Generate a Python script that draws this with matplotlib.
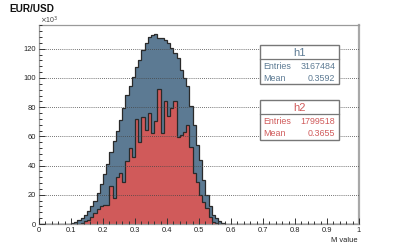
import numpy as np
import matplotlib
matplotlib.use('Agg')
import matplotlib.pyplot as plt
from matplotlib.ticker import MultipleLocator, FuncFormatter
from matplotlib.patches import Rectangle
from matplotlib.lines import Line2D

plt.rcParams['font.family'] = ['Liberation Sans', 'DejaVu Sans']

# histogram binning: 100 bins between 0 and 1
n_bins = 100
x_min, x_max = 0.0, 1.0

# h1 contents (x10^3), first filled bin starts at M = 0.10
h1_start = 10
h1_counts = [0.5, 1.6, 2.8, 4.0, 6.2, 9.2, 12.0, 16.0, 21.0, 27.5,
             34.5, 41.0, 49.0, 57.0, 64.0, 71.0, 79.5, 88.6, 94.3, 101.0,
             107.3, 112.5, 119.4, 124.0, 128.0, 129.2, 130.0, 127.4, 127.4, 126.3,
             124.0, 120.5, 117.0, 113.7, 105.7, 100.0, 94.3, 80.6, 68.0, 54.3,
             44.0, 30.3, 20.0, 12.0, 6.4, 4.0, 1.8, 0.7, 0.3, 0.1]

# h2 contents (x10^3), first filled bin starts at M = 0.12
h2_start = 12
h2_counts = [0.3, 1.0, 2.0, 3.0, 4.5, 7.5, 10.0, 12.0, 13.0, 13.0,
             26.0, 18.0, 32.0, 35.0, 29.0, 43.0, 52.0, 46.0, 72.0, 56.0,
             73.5, 64.4, 75.8, 62.0, 70.8, 92.3, 62.0, 84.5, 74.0, 79.2,
             84.5, 59.8, 61.0, 63.2, 67.8, 53.0, 34.7, 29.0, 19.9, 15.3,
             10.7, 5.0, 1.6, 0.5]

h1_entries = 3167484
h1_mean = 0.3592
h2_entries = 1799518
h2_mean = 0.3655

title = 'EUR/USD'
x_label = 'M value'

blue = '#5c7a93'
red = '#d05a5a'
line_col = '#2a2a2a'
frame_col = '#9a9a9a'


def full(start, vals):
    c = np.zeros(n_bins)
    c[start:start + len(vals)] = vals
    return c


edges = np.linspace(x_min, x_max, n_bins + 1)
c1 = full(h1_start, h1_counts)
c2 = full(h2_start, h2_counts)

W, H = 399, 249
fig = plt.figure(figsize=(W / 100, H / 100), dpi=100)
ax = fig.add_axes([39 / W, 1 - 224 / H, 320 / W, 199 / H])

ax.stairs(c1, edges, fill=True, color=blue, lw=0)
ax.stairs(c1, edges, color=line_col, lw=0.9)
ax.stairs(c2, edges, fill=True, color=red, lw=0)
ax.stairs(c2, edges, color=line_col, lw=0.9)

ax.set_xlim(x_min, x_max)
ax.set_ylim(0, 136.3)

ax.xaxis.set_major_locator(MultipleLocator(0.1))
ax.xaxis.set_minor_locator(MultipleLocator(0.02))
ax.yaxis.set_major_locator(MultipleLocator(20))
ax.yaxis.set_minor_locator(MultipleLocator(4))
ax.xaxis.set_major_formatter(FuncFormatter(lambda v, p: '%g' % round(v, 2)))
ax.yaxis.set_major_formatter(FuncFormatter(lambda v, p: '%d' % v))
ax.tick_params(which='both', direction='in', colors='#333', labelsize=5.4,
               top=False, right=False, width=0.7)
ax.tick_params(which='major', length=4.5, pad=2)
ax.tick_params(which='minor', length=2.3)
for t in ax.get_xticklabels() + ax.get_yticklabels():
    t.set_color('#222')

ax.yaxis.grid(True, which='major', linestyle=(0, (1, 1.5)), color='#444', lw=0.6)
ax.set_axisbelow(False)

for s in ['left', 'bottom', 'top']:
    ax.spines[s].set_color(frame_col)
    ax.spines[s].set_linewidth(0.9)
ax.spines['right'].set_color('#a8a8a8')
ax.spines['right'].set_linewidth(1.6)

fig.text(9.5 / W, 1 - 11.5 / H, title, fontsize=7.2, fontweight='bold', color='#111')
fig.text(40 / W, 1 - 23.5 / H, r'$\times$10$^{3}$', fontsize=5, color='#444')
fig.text(358 / W, 1 - 242 / H, x_label, fontsize=5.4, ha='right', color='#222')


def stats_box(top, name, entries, mean, col):
    left, right = 259.5, 339.0
    hdr, row = 14.5, 12.5
    bottom = top + hdr + 2 * row
    fig.patches.append(Rectangle((left / W, 1 - bottom / H), (right - left) / W,
                                 (bottom - top) / H, transform=fig.transFigure,
                                 facecolor='white', edgecolor='#777', lw=1.0,
                                 zorder=5))
    fig.lines.append(Line2D([left / W, right / W],
                            [1 - (top + hdr) / H, 1 - (top + hdr) / H],
                            transform=fig.transFigure, color='#777', lw=0.9,
                            zorder=6))
    fig.text((left + right) / 2 / W, 1 - (top + hdr / 2 + 0.5) / H, name,
             fontsize=8, color=col, ha='center', va='center', zorder=7)
    y1 = top + hdr + row / 2 + 0.5
    y2 = y1 + row
    fig.text((left + 3.5) / W, 1 - y1 / H, 'Entries', fontsize=6.4,
             color=col, va='center', zorder=7)
    fig.text((right - 3.5) / W, 1 - y1 / H, '%d' % entries, fontsize=6.4,
             color=col, va='center', ha='right', zorder=7)
    fig.text((left + 3.5) / W, 1 - y2 / H, 'Mean', fontsize=6.4,
             color=col, va='center', zorder=7)
    fig.text((right - 3.5) / W, 1 - y2 / H, '%.4f' % mean, fontsize=6.4,
             color=col, va='center', ha='right', zorder=7)


stats_box(45, 'h1', h1_entries, h1_mean, blue)
stats_box(100, 'h2', h2_entries, h2_mean, red)

fig.savefig('out.png', dpi=100)
